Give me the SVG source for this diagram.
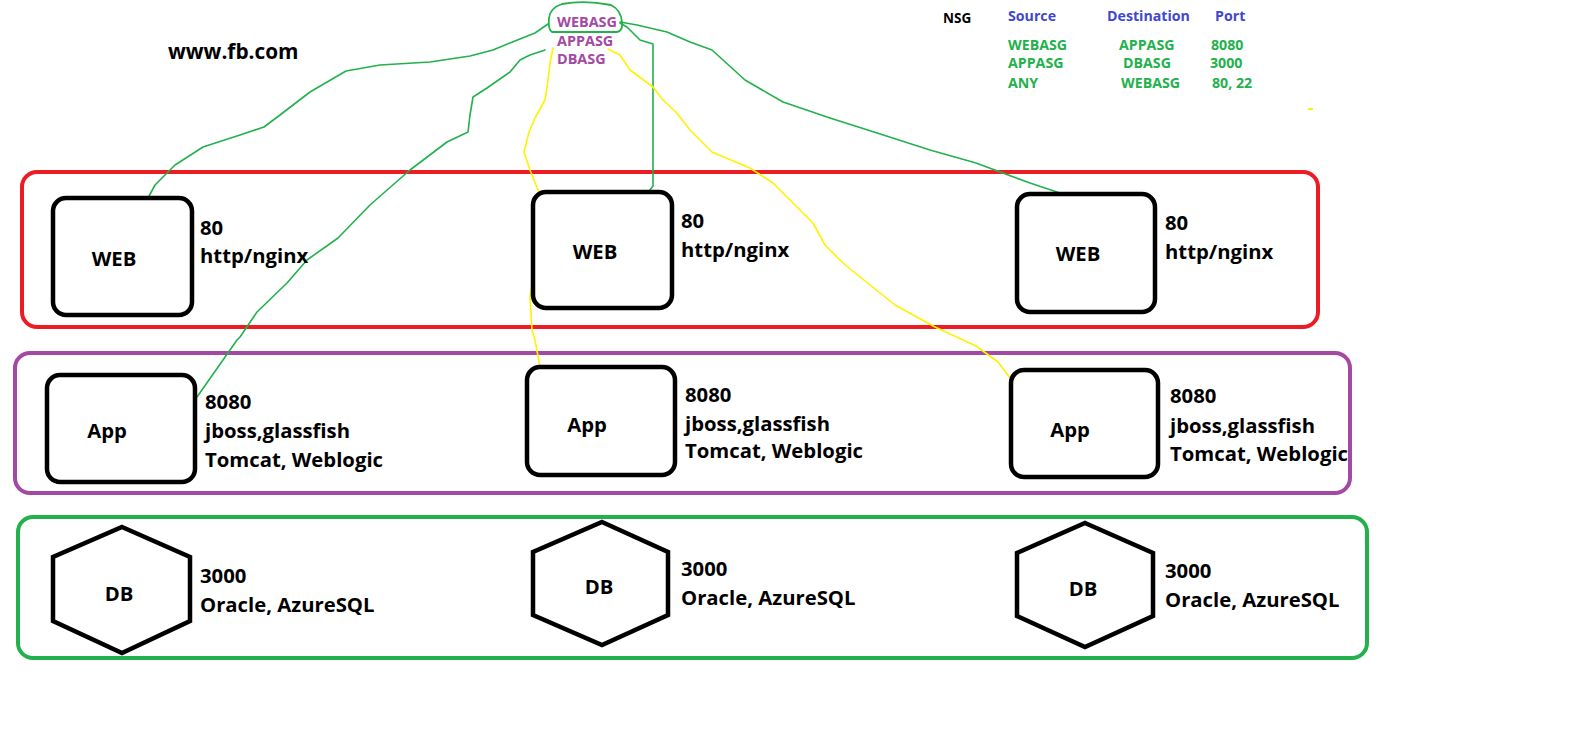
<svg xmlns="http://www.w3.org/2000/svg" width="1594" height="730" viewBox="0 0 1594 730">
<style>
.bg{fill:#ffffff}
.tier{fill:none;stroke-width:4}
.box{fill:#ffffff;stroke:#000000;stroke-width:4.5}
.t{font-family:"Open Sans","Noto Sans","Liberation Sans",sans-serif;font-weight:700;font-size:20.3px;fill:#000000}
.c{text-anchor:middle}
.sg{font-family:"Open Sans","Noto Sans","Liberation Sans",sans-serif;font-weight:700;font-size:14.4px;fill:#a349a4}
.nh{font-family:"Open Sans","Noto Sans","Liberation Sans",sans-serif;font-weight:700;font-size:14.2px;fill:#3f48cc}
.nr{font-family:"Open Sans","Noto Sans","Liberation Sans",sans-serif;font-weight:700;font-size:14.2px;fill:#22b14c}
.g{fill:none;stroke:#22b14c;stroke-width:1.6;stroke-linejoin:round;stroke-linecap:round}
.y{fill:none;stroke:#fff200;stroke-width:1.6;stroke-linejoin:round;stroke-linecap:round}
</style>
<rect class="bg" x="0" y="0" width="1594" height="730"/>

<g id="web-tier"><rect class="tier" x="22" y="172" width="1296" height="155" rx="15" stroke="#ed1c24"/></g>
<g id="app-tier"><rect class="tier" x="15" y="353" width="1335" height="140" rx="15" stroke="#a349a4"/></g>
<g id="db-tier"><rect class="tier" x="18" y="517" width="1349" height="141" rx="15" stroke="#22b14c"/></g>

<g id="title"><text class="t" x="168" y="59" style="font-size:20.8px">www.fb.com</text></g>

<g id="asg">
<path d="M552,32 L617,32 Q623,31 622,22 Q621,10 611,5 Q585,0 562,4 Q550,8 549,18 Q548,30 552,32 Z" fill="none" stroke="#22b14c" stroke-width="1.8"/>
<text class="sg" x="557" y="27">WEBASG</text>
<text class="sg" x="557" y="46">APPASG</text>
<text class="sg" x="557" y="64">DBASG</text>
</g>

<g id="nsg">
<text class="t" x="943" y="23" style="font-size:13.5px">NSG</text>
<text class="nh" x="1008" y="21">Source</text>
<text class="nh" x="1107" y="21">Destination</text>
<text class="nh" x="1215" y="21">Port</text>
<text class="nr" x="1008" y="50">WEBASG</text>
<text class="nr" x="1119" y="50">APPASG</text>
<text class="nr" x="1211" y="50">8080</text>
<text class="nr" x="1008" y="68">APPASG</text>
<text class="nr" x="1123" y="68">DBASG</text>
<text class="nr" x="1210" y="68">3000</text>
<text class="nr" x="1008" y="88">ANY</text>
<text class="nr" x="1121" y="88">WEBASG</text>
<text class="nr" x="1212" y="88">80, 22</text>
<rect x="1308" y="108" width="5" height="2" fill="#fff200"/>
</g>

<g id="connectors">
<path class="g" d="M548,24 L535,33 L510,43 L493,50 L470,56 L430,62 L380,65 L346,71 L310,92 L280,115 L264,127 L240,135 L203,147 L175,165 L155,185 L148,198"/>
<path class="g" d="M545,50 L530,55 L520,60 L510,72 L487,88 L473,97 L470,115 L468,132 L447,142 L410,170 L370,205 L338,238 L307,260 L287,283 L257,312 L240,337 L237,340 L197,397"/>
<path class="g" d="M620,23 L627,27 L633,33 L640,40 L653,44 L653,80 L653,140 L653,186 L646,195"/>
<path class="g" d="M620,22 L637,25 L667,32 L690,42 L712,50 L745,80 L783,102 L830,118 L874,132 L930,150 L976,163 L1030,183 L1060,193"/>
<path class="y" d="M553,48 L550,63 L548,80 L545,100 L535,118 L529,132 L524,152 L530,170 L540,195 L552,203 L550,210 L543,243 L533,277 L530,297 L532,330 L535,340 L542,378"/>
<path class="y" d="M608,49 L620,55 L630,70 L653,87 L663,100 L676,112 L690,130 L712,152 L750,168 L773,183 L793,203 L813,223 L825,245 L844,264 L870,285 L895,305 L935,327 L976,346 L998,362 L1010,378"/>
</g>

<g id="web1"><rect class="box" x="53" y="198" width="139" height="117" rx="13"/><text class="t c" x="114" y="266">WEB</text><text class="t" x="200" y="235">80</text><text class="t" x="200" y="263">http/nginx</text></g>
<g id="web2"><rect class="box" x="533" y="192" width="139" height="116" rx="13"/><text class="t c" x="595" y="259">WEB</text><text class="t" x="681" y="228">80</text><text class="t" x="681" y="257">http/nginx</text></g>
<g id="web3"><rect class="box" x="1017" y="194" width="138" height="118" rx="13"/><text class="t c" x="1078" y="261">WEB</text><text class="t" x="1165" y="230">80</text><text class="t" x="1165" y="259">http/nginx</text></g>

<g id="app1"><rect class="box" x="47" y="375" width="148" height="107" rx="13"/><text class="t c" x="107" y="438">App</text><text class="t" x="205" y="409">8080</text><text class="t" x="205" y="438">jboss,glassfish</text><text class="t" x="205" y="467">Tomcat, Weblogic</text></g>
<g id="app2"><rect class="box" x="527" y="367" width="148" height="108" rx="13"/><text class="t c" x="587" y="432">App</text><text class="t" x="685" y="402">8080</text><text class="t" x="685" y="431">jboss,glassfish</text><text class="t" x="685" y="458">Tomcat, Weblogic</text></g>
<g id="app3"><rect class="box" x="1011" y="370" width="147" height="107" rx="13"/><text class="t c" x="1070" y="437">App</text><text class="t" x="1170" y="403">8080</text><text class="t" x="1170" y="433">jboss,glassfish</text><text class="t" x="1170" y="461">Tomcat, Weblogic</text></g>

<g id="db1"><polygon class="box" points="122,527 190,557 190,621 122,653 53,621 53,557"/><text class="t c" x="119" y="601">DB</text><text class="t" x="200" y="583">3000</text><text class="t" x="200" y="612">Oracle, AzureSQL</text></g>
<g id="db2"><polygon class="box" points="602,522 668,552 668,615 602,645 533,615 533,552"/><text class="t c" x="599" y="594">DB</text><text class="t" x="681" y="576">3000</text><text class="t" x="681" y="605">Oracle, AzureSQL</text></g>
<g id="db3"><polygon class="box" points="1085,523 1153,553 1153,616 1085,647 1017,616 1017,553"/><text class="t c" x="1083" y="596">DB</text><text class="t" x="1165" y="578">3000</text><text class="t" x="1165" y="607">Oracle, AzureSQL</text></g>
</svg>
